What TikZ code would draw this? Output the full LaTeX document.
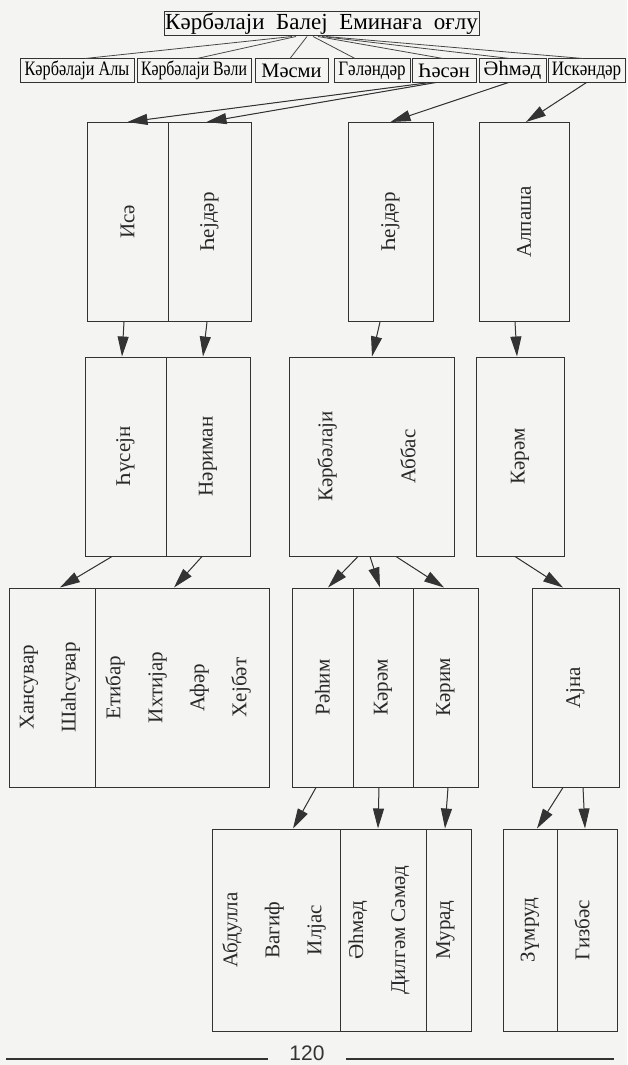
\documentclass[tikz,border=0pt]{standalone}
\usepackage{fontspec}
\setmainfont{Liberation Serif}
\newfontfamily\pagefont{Liberation Sans}
\usetikzlibrary{arrows.meta,positioning,calc}

\definecolor{ink}{HTML}{333333}
\definecolor{paper}{HTML}{F4F4F2}

% squeeze a son's name to the width of his box
\newcommand{\narrow}[2]{\scalebox{#1}[1]{#2}}

\begin{document}
\begin{tikzpicture}[
  x=1pt, y=-1pt,
  >={Triangle[length=20pt,width=11pt]},
  head/.style={draw=ink, line width=1pt, inner sep=0pt, minimum height=24pt,
              font=\fontsize{23}{26}\selectfont},
  son/.style={draw=ink, line width=1pt, inner sep=0pt, minimum height=23pt,
              font=\fontsize{20.5}{22}\selectfont},
  cell/.style={draw=ink, line width=1pt, inner sep=0pt, minimum height=199pt},
  names/.style={rotate=90, align=center, inner sep=0pt, text=ink!80!black,
              font=\fontsize{21}{42}\selectfont},
  link/.style={draw=ink!90, line width=0.8pt},
  arr/.style={->, draw=ink, fill=ink, line width=1pt},
  rule/.style={draw=ink, line width=1.2pt},
]

\fill[paper] (0,0) rectangle (627,1065);
\useasboundingbox (0,0) rectangle (627,1065);

% === Head and his sons ===
\node[head, minimum width=315pt] (balej) at (321.5,24) {Кәрбәлаји \ Балеј \ Еминаға \ оғлу};

\node[son, minimum width=114pt] (aly)      at (77,70.5)    {\narrow{0.79}{Кәрбәлаји Алы}};
\node[son, minimum width=114pt] (vali)     at (194,70.5)   {\narrow{0.77}{Кәрбәлаји Вәли}};
\node[son, minimum width=73pt]  (masmi)    at (291.5,70.5) {Мәсми};
\node[son, minimum width=76pt]  (galandar) at (372,70.5)   {\narrow{0.83}{Гәләндәр}};
\node[son, minimum width=64pt]  (hasan)    at (444,70.5)   {Һәсән};
\node[son, minimum width=67pt]  (ahmad)    at (512.5,70.5) {Әһмәд};
\node[son, minimum width=77pt]  (iskandar) at (586.5,70.5) {\narrow{0.83}{Искәндәр}};

\draw[link] ([xshift=-29.5pt]balej.south) -- ([xshift=8pt]aly.north);
\draw[link] ([xshift=-25.5pt]balej.south) -- ([xshift=3pt]vali.north);
\draw[link] ([xshift=-14.5pt]balej.south) -- ([xshift=-1.5pt]masmi.north);
\draw[link] ([xshift=-8.5pt]balej.south)  -- ([xshift=-17pt]galandar.north);
\draw[link] ([xshift=-3.5pt]balej.south)  -- ([xshift=-1pt]hasan.north);
\draw[link] ([xshift=0.5pt]balej.south)   -- ([xshift=-2.5pt]ahmad.north);
\draw[link] ([xshift=4.5pt]balej.south)   -- ([xshift=-3.5pt]iskandar.north);

% === Generation 1 ===
\node[cell, minimum width=81pt] (isa)     at (127.5,222) {};
\node[cell, minimum width=83pt] (hejdar)  at (209.5,222) {};
\node[cell, minimum width=85pt] (hejdarB) at (390.5,222) {};
\node[cell, minimum width=90pt] (alpasha) at (524,222)   {};
\node[names] (isa t)     at (isa)     {Исә};
\node[names] (hejdar t)  at (hejdar)  {Һејдәр};
\node[names] (hejdarB t) at (hejdarB) {Һејдәр};
\node[names] (alpasha t) at (alpasha) {Алпаша};

\draw[arr] ([xshift=-14pt]hasan.south) -- (isa.north);
\draw[arr] ([xshift=-8pt]hasan.south)  -- ([xshift=-3pt]hejdar.north);
\draw[arr] ([xshift=-4pt]ahmad.south)  -- (hejdarB.north);
\draw[arr] (iskandar.south)            -- ([xshift=2pt]alpasha.north);

% === Generation 2 ===
\node[cell, minimum width=81pt]  (husejn)  at (125.5,456.5) {};
\node[cell, minimum width=84pt]  (nariman) at (208,456.5)   {};
\node[cell, minimum width=165pt] (abbas)   at (371.5,456.5) {};
\node[cell, minimum width=88pt]  (karam)   at (520,456.5)   {};
\node[names] (husejn t)  at (husejn)  {Һүсејн};
\node[names] (nariman t) at (nariman) {Нәриман};
\node[names] (abbas t)   at ([xshift=-5pt]abbas) {Кәрбәлаји\\[41pt]Аббас};
\node[names] (karam t)   at (karam)   {Кәрәм};

\draw[arr] ([xshift=-3.5pt]isa.south)      -- ([xshift=-3.5pt]husejn.north);
\draw[arr] ([xshift=-2.5pt]hejdar.south)   -- ([xshift=-5pt]nariman.north);
\draw[arr] ([xshift=-10.5pt]hejdarB.south) -- ([xshift=0.5pt]abbas.north);
\draw[arr] ([xshift=-9pt]alpasha.south)    -- ([xshift=-3pt]karam.north);

% === Generation 3 ===
\node[cell, minimum width=86pt]  (hansuvar) at (52,687.5)    {};
\node[cell, minimum width=174pt] (etibar)   at (182,687.5)   {};
\node[cell, minimum width=61pt]  (rahim)    at (322.5,687.5) {};
\node[cell, minimum width=60pt]  (karamB)   at (383,687.5)   {};
\node[cell, minimum width=65pt]  (karim)    at (445.5,687.5) {};
\node[cell, minimum width=87pt]  (ajna)     at (575.5,687.5) {};
\node[names] (hansuvar t) at ([xshift=-2pt]hansuvar) {Хансувар\\Шаһсувар};
\node[names] (etibar t)   at ([xshift=-4pt]etibar)   {Етибар\\Ихтијар\\Афәр\\Хејбәт};
\node[names] (rahim t)    at (rahim)  {Рәһим};
\node[names] (karamB t)   at (karamB) {Кәрәм};
\node[names] (karim t)    at (karim)  {Кәрим};
\node[names] (ajna t)     at (ajna)   {Ајна};

\draw[arr] ([xshift=-13.5pt]husejn.south) -- ([xshift=8pt]hansuvar.north);
\draw[arr] ([xshift=-6pt]nariman.south)   -- ([xshift=-8pt]etibar.north);
\draw[arr] ([xshift=-13.5pt]abbas.south)  -- ([xshift=5.5pt]rahim.north);
\draw[arr] ([xshift=-1.5pt]abbas.south)   -- ([xshift=-3pt]karamB.north);
\draw[arr] ([xshift=24.5pt]abbas.south)   -- ([xshift=-1.5pt]karim.north);
\draw[arr] ([xshift=-5pt]karam.south)     -- ([xshift=-12.5pt]ajna.north);

% === Generation 4 ===
\node[cell, minimum width=128pt, minimum height=202pt] (abdulla) at (276,930)   {};
\node[cell, minimum width=86pt,  minimum height=202pt] (ahmadB)  at (383,930)   {};
\node[cell, minimum width=45pt,  minimum height=202pt] (murad)   at (448.5,930) {};
\node[cell, minimum width=54pt,  minimum height=202pt] (zumrud)  at (530,930)   {};
\node[cell, minimum width=60pt,  minimum height=202pt] (gizbas)  at (587,930)   {};
\node[names] (abdulla t) at ([xshift=-2pt]abdulla) {Абдулла\\Вагиф\\Илјас};
\node[names] (ahmadB t)  at ([xshift=-4pt]ahmadB)  {Әһмәд\\Дилгәм Сәмәд};
\node[names] (murad t)   at ([xshift=-3pt]murad)   {Мурад};
\node[names] (zumrud t)  at (zumrud)  {Зүмруд};
\node[names] (gizbas t)  at ([xshift=-5pt]gizbas)  {Гизбәс};

\draw[arr] ([xshift=-6.5pt]rahim.south) -- ([xshift=17pt]abdulla.north);
\draw[arr] ([xshift=-4pt]karamB.south)  -- ([xshift=-5pt]ahmadB.north);
\draw[arr] ([xshift=2.5pt]karim.south)  -- ([xshift=-3.5pt]murad.north);
\draw[arr] ([xshift=-12.5pt]ajna.south) -- ([xshift=7pt]zumrud.north);
\draw[arr] ([xshift=7.5pt]ajna.south)   -- ([xshift=-2pt]gizbas.north);

% page number
\node[font=\pagefont\fontsize{21}{22}\selectfont, text=ink, inner sep=0pt] (page) at (307,1053) {120};
\draw[rule] (6,1059) -- (268,1059);
\draw[rule] (346,1059) -- (614,1059);

\end{tikzpicture}
\end{document}
